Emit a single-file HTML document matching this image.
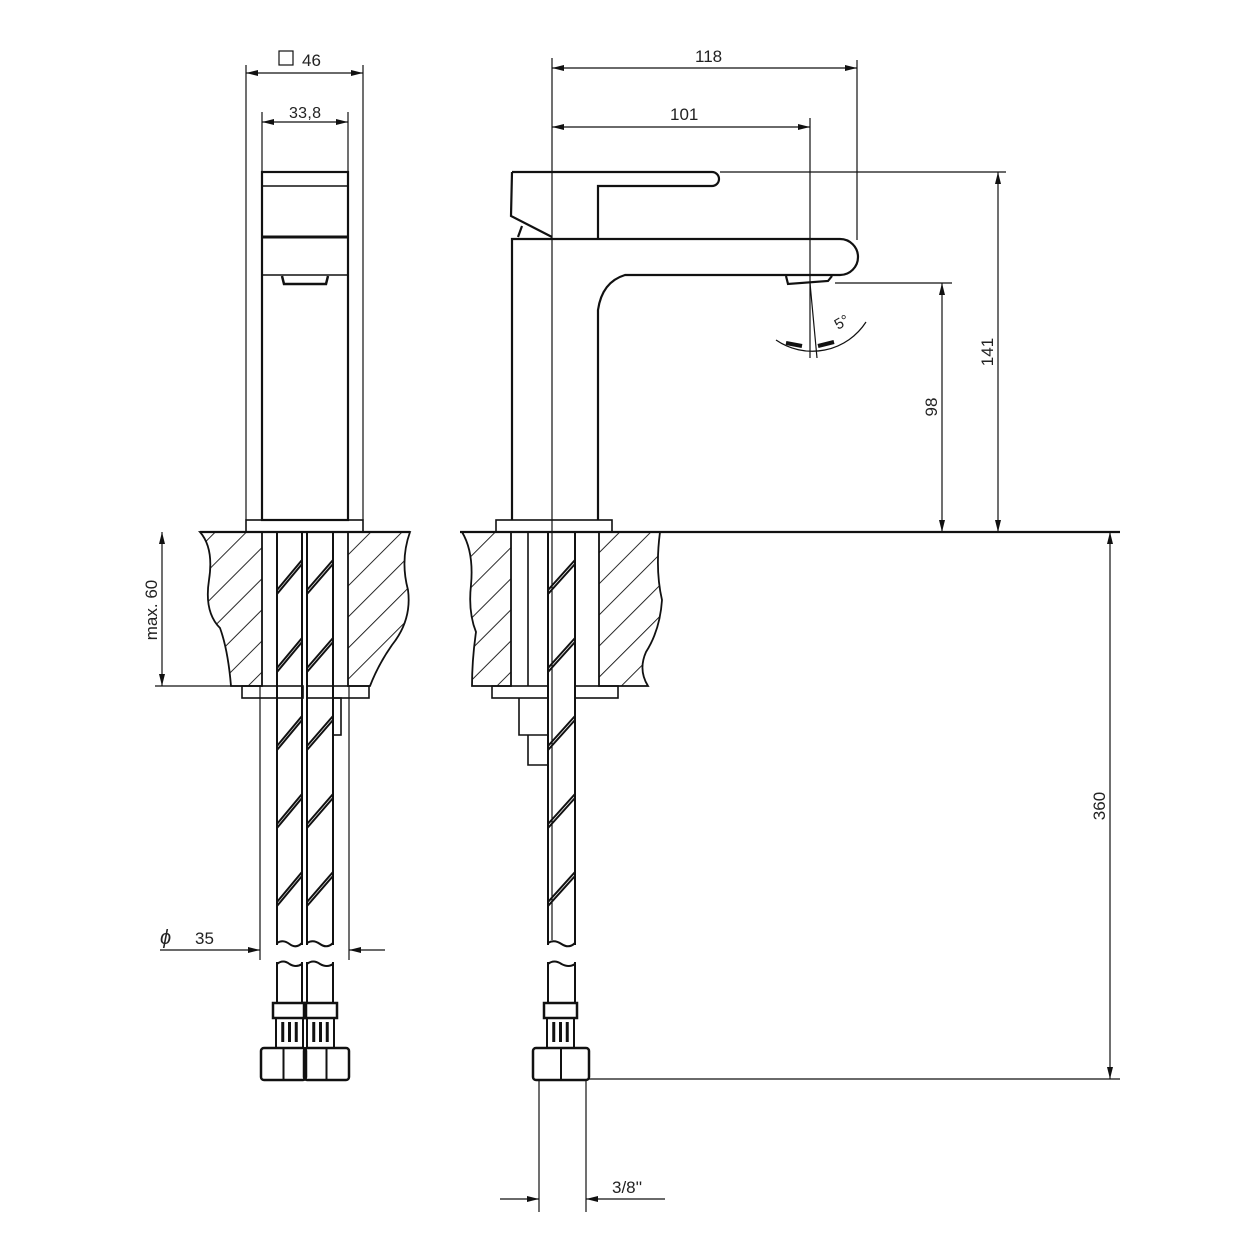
<!DOCTYPE html>
<html><head><meta charset="utf-8"><style>
html,body{margin:0;padding:0;background:#fff;}
svg{display:block;}
text{font-family:"Liberation Sans",sans-serif;fill:#222;}
</style></head><body>
<svg id="s" width="1250" height="1250" viewBox="0 0 1250 1250" xmlns="http://www.w3.org/2000/svg">
<defs>
<pattern id="h" patternUnits="userSpaceOnUse" width="22" height="22" patternTransform="rotate(45)">
<line x1="0" y1="0" x2="0" y2="22" stroke="#111" stroke-width="1.8"/>
</pattern>
<marker id="a" viewBox="0 0 12 6" refX="12" refY="3" markerWidth="12" markerHeight="6" orient="auto-start-reverse" markerUnits="userSpaceOnUse">
<path d="M0,0 L12,3 L0,6 z" fill="#111"/>
</marker>
</defs>
<g fill="none" stroke="#111" stroke-width="1.2">
<line x1="246" y1="65" x2="246" y2="520"/>
<line x1="363" y1="65" x2="363" y2="520"/>
<line x1="246" y1="73" x2="363" y2="73" marker-start="url(#a)" marker-end="url(#a)"/>
<rect x="279" y="51" width="14" height="14"/>
<line x1="262" y1="112" x2="262" y2="172"/>
<line x1="348" y1="112" x2="348" y2="172"/>
<line x1="262" y1="122" x2="348" y2="122" marker-start="url(#a)" marker-end="url(#a)"/>
</g>
<text x="302" y="66" font-size="17">46</text>
<text x="289" y="118" font-size="16" textLength="32">33,8</text>
<g fill="none" stroke="#111" stroke-width="2.2">
<rect x="262" y="172" width="86" height="348"/>
<line x1="262" y1="186" x2="348" y2="186" stroke-width="1.6"/>
<line x1="262" y1="237" x2="348" y2="237" stroke-width="3"/>
<line x1="262" y1="275" x2="348" y2="275" stroke-width="1.6"/>
<path d="M282,276 L284,284 L326,284 L328,276" stroke-width="2.5"/>
<rect x="246" y="520" width="117" height="12" stroke-width="1.6"/>
</g>
<g fill="none" stroke="#111" stroke-width="2.2">
<path d="M512,172 L712,172 A7,7 0 0 1 712,186 L598,186 L598,238"/>
<path d="M512,172 L511,216 L552,237"/>
<path d="M518,237 L522,226"/>
<path d="M512,520 L512,239 L840,239 A18,18 0 0 1 840,275 L625,275 Q602,282 598,310 L598,520"/>
<path d="M786,276 L788,284 L828,281 L832,276"/>
<rect x="496" y="520" width="116" height="12" stroke-width="1.6"/>
</g>
<g fill="none" stroke="#111" stroke-width="1.2">
<line x1="552" y1="58" x2="552" y2="940"/>
<line x1="857" y1="60" x2="857" y2="240"/>
<line x1="552" y1="68" x2="857" y2="68" marker-start="url(#a)" marker-end="url(#a)"/>
<line x1="810" y1="118" x2="810" y2="358"/>
<line x1="552" y1="127" x2="810" y2="127" marker-start="url(#a)" marker-end="url(#a)"/>
<line x1="810" y1="283" x2="817" y2="358"/>
<path d="M776,340 A64,64 0 0 0 866,322"/>
<path d="M802,346 l-16,-3 M818,346 l16,-4" stroke-width="4"/>
<line x1="720" y1="172" x2="1006" y2="172"/>
<line x1="998" y1="172" x2="998" y2="532" marker-start="url(#a)" marker-end="url(#a)"/>
<line x1="835" y1="283" x2="952" y2="283"/>
<line x1="942" y1="283" x2="942" y2="532" marker-start="url(#a)" marker-end="url(#a)"/>
<line x1="1110" y1="532" x2="1110" y2="1079" marker-start="url(#a)" marker-end="url(#a)"/>
<line x1="589" y1="1079" x2="1120" y2="1079"/>
<line x1="539" y1="1080" x2="539" y2="1212"/>
<line x1="586" y1="1080" x2="586" y2="1212"/>
<line x1="500" y1="1199" x2="539" y2="1199" marker-end="url(#a)"/>
<line x1="665" y1="1199" x2="586" y2="1199" marker-end="url(#a)"/>
<line x1="162" y1="532" x2="162" y2="686" marker-start="url(#a)" marker-end="url(#a)"/>
<line x1="155" y1="686" x2="262" y2="686"/>
<line x1="260" y1="686" x2="260" y2="960"/>
<line x1="349" y1="686" x2="349" y2="960"/>
<line x1="160" y1="950" x2="260" y2="950" marker-end="url(#a)"/>
<line x1="385" y1="950" x2="349" y2="950" marker-end="url(#a)"/>
</g>
<text x="695" y="62" font-size="17">118</text>
<text x="670" y="120" font-size="17">101</text>
<text transform="translate(993,352) rotate(-90)" font-size="17" text-anchor="middle">141</text>
<text transform="translate(937,407) rotate(-90)" font-size="17" text-anchor="middle">98</text>
<text transform="translate(1105,806) rotate(-90)" font-size="17" text-anchor="middle">360</text>
<text transform="translate(157,610) rotate(-90)" font-size="17" text-anchor="middle">max. 60</text>
<text x="160" y="944" font-size="20" font-style="italic">ϕ</text>
<text x="195" y="944" font-size="17">35</text>
<text x="612" y="1193" font-size="17">3/8''</text>
<text transform="translate(838,330) rotate(-30)" font-size="15">5°</text>
<line x1="200" y1="532" x2="410" y2="532" stroke="#111" stroke-width="2.2"/>
<line x1="460" y1="532" x2="1120" y2="532" stroke="#111" stroke-width="2.2"/>
<g stroke="#111" stroke-width="1.8">
<path d="M200,532 Q214,548 209,580 Q204,612 220,628 Q228,650 231,686 L262,686 L262,532 Z" fill="url(#h)"/>
<path d="M348,532 L410,532 Q400,560 408,590 Q412,620 392,645 Q378,665 370,686 L348,686 Z" fill="url(#h)"/>
<path d="M462,532 Q474,552 471,585 Q468,612 476,632 Q472,660 472,686 L511,686 L511,532 Z" fill="url(#h)"/>
<path d="M599,532 L660,532 Q655,570 662,600 Q660,630 646,652 Q638,670 648,686 L599,686 Z" fill="url(#h)"/>
</g>
<g fill="none" stroke="#111" stroke-width="1.6">
<rect x="242" y="686" width="61" height="12"/><rect x="307" y="686" width="62" height="12"/>
<rect x="492" y="686" width="56" height="12"/><rect x="575" y="686" width="43" height="12"/>
<rect x="333" y="698" width="8" height="37"/>
<path d="M519,698 L519,735 L528,735 L528,765 L548,765 M519,735 L548,735"/>
<line x1="528" y1="532" x2="528" y2="686"/>
</g>
<g id="hoses" fill="none" stroke="#111" stroke-width="2"></g>
</svg>
<script>
var g=document.getElementById('hoses'),ns='http://www.w3.org/2000/svg';
function el(t,a){var e=document.createElementNS(ns,t);for(var k in a)e.setAttribute(k,a[k]);g.appendChild(e);return e;}
function hose(x1,x2,y0,yb,yc){
 el('line',{x1:x1,y1:y0,x2:x1,y2:yb});el('line',{x1:x2,y1:y0,x2:x2,y2:yb});
 el('line',{x1:x1,y1:yc,x2:x1,y2:1003});el('line',{x1:x2,y1:yc,x2:x2,y2:1003});
 var m=(x1+x2)/2;
 el('path',{d:'M'+x1+','+(yb-2)+' Q'+(x1+6)+','+(yb-6)+' '+m+','+(yb-1)+' Q'+(x2-6)+','+(yb+4)+' '+x2+','+(yb-2)});
 el('path',{d:'M'+x1+','+(yc+2)+' Q'+(x1+6)+','+(yc-3)+' '+m+','+(yc+2)+' Q'+(x2-6)+','+(yc+6)+' '+x2+','+(yc+2)});
 for(var y=560;y<1000;y+=78){ if(y>yb-30&&y<yc+10)continue;
  el('line',{x1:x1,y1:y+30,x2:x2,y2:y,'stroke-width':2});
  el('line',{x1:x1,y1:y+34,x2:x2,y2:y+4,'stroke-width':2});}
}
hose(277,302,532,945,962);hose(307,333,532,945,962);hose(548,575,532,945,962);
function fit(x1,x2,nx1,nx2){
 el('rect',{x:x1,y:1003,width:x2-x1,height:15,'stroke-width':2.5});
 el('rect',{x:x1+3,y:1018,width:x2-x1-6,height:30});
 for(var i=1;i<4;i++){var xx=x1+3+(x2-x1-6)*i/4;el('line',{x1:xx,y1:1022,x2:xx,y2:1042,'stroke-width':3});}
 el('rect',{x:nx1,y:1048,width:nx2-nx1,height:32,rx:3,'stroke-width':2.5});
 var mm=(nx1+nx2)/2;el('line',{x1:mm,y1:1048,x2:mm,y2:1080});
}
fit(273,306,261,306);fit(304,337,304,349);fit(544,577,533,589);
</script>
</body></html>
